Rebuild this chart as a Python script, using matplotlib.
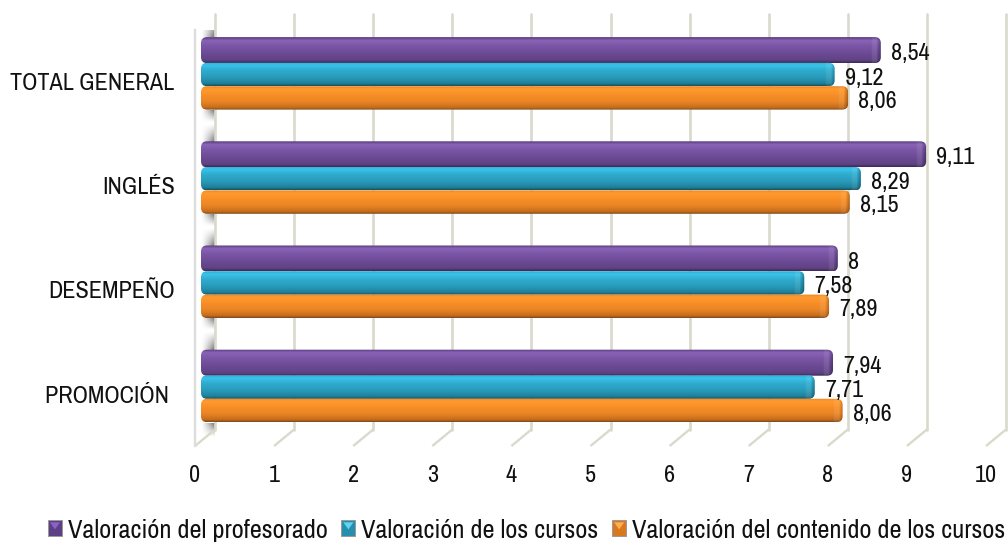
import numpy as np
import matplotlib
matplotlib.use("Agg")
import matplotlib.pyplot as plt
from matplotlib import font_manager as fm
from matplotlib.colors import LinearSegmentedColormap
from matplotlib.legend_handler import HandlerPatch
from matplotlib.patches import FancyBboxPatch, Patch, Rectangle, Polygon
from matplotlib.transforms import ScaledTranslation

categories = ["TOTAL GENERAL", "INGLÉS", "DESEMPEÑO", "PROMOCIÓN "]
series_names = ["Valoración del profesorado", "Valoración de los cursos",
                "Valoración del contenido de los cursos"]
profesorado = [8.54, 9.11, 8.00, 7.94]
cursos = [7.96, 8.29, 7.58, 7.71]
contenido = [8.13, 8.15, 7.89, 8.06]
label_profesorado = ["8,54", "9,11", "8", "7,94"]
label_cursos = ["9,12", "8,29", "7,58", "7,71"]
label_contenido = ["8,06", "8,15", "7,89", "8,06"]
x_ticks = list(range(0, 11))

names = {f.name for f in fm.fontManager.ttflist}
if "Archivo Narrow" in names:
    plt.rcParams["font.family"] = ["Archivo Narrow", "Liberation Sans"]
    FS = 17.4
    FS_LEG = 19.0
else:
    plt.rcParams["font.family"] = ["Liberation Sans"]
    FS = 14.6
    FS_LEG = 15.5

W, H = 1008, 548
DPI = 100
fig = plt.figure(figsize=(W / DPI, H / DPI), dpi=DPI, facecolor="white")


def px_axes(x0, y0, x1, y1, **kw):
    return fig.add_axes([x0 / W, 1 - y1 / H, (x1 - x0) / W, (y1 - y0) / H], **kw)


# grid axes: scale of the ticks and floor
GRID = "#d9d9cc"
ax_g = px_axes(195, 30, 986, 446)
for s in ax_g.spines.values():
    s.set_visible(False)
ax_g.set_yticks([])
ax_g.set_xticks(x_ticks)
ax_g.set_xticklabels([str(t) for t in x_ticks], fontsize=FS, color="#111111")
ax_g.tick_params(axis="x", length=0, pad=13.5)
back = ax_g.transData + ScaledTranslation(20 / DPI, 16.5 / DPI, fig.dpi_scale_trans)
for t in x_ticks:
    ax_g.plot([t, t + 20 / 79.1], [0, 16.5 / 416], color=GRID, lw=1.7, clip_on=False, zorder=2,
              solid_capstyle="butt")
    ax_g.plot([t, t], [0, 1], transform=back, color=GRID, lw=1.9, clip_on=False, zorder=2,
              solid_capstyle="round")
# left wall front edge
ax_g.plot([0, 0], [0, 1], color="#dddddd", lw=1.7, clip_on=False, zorder=2)

# soft shadow on the back wall beside each group (spans given in pixels: near edge, far edge)
PITCH = 104.2
YC0 = 74.5
ramp_x = np.linspace(0, 1, 40) ** 1.3
for py_near, py_far in [(37, 14), (110, 122), (142, 124), (214, 226), (246, 228),
                        (318, 330), (350, 332), (423, 437)]:
    ramp_y = np.linspace(1, 0, 30) ** 1.1
    if py_far < py_near:
        top, bot, ry = py_far, py_near, ramp_y[::-1]
    else:
        top, bot, ry = py_near, py_far, ramp_y
    rgba = np.zeros((30, 40, 4))
    rgba[..., :3] = 0.40
    rgba[..., 3] = 0.95 * np.outer(ry, ramp_x)
    ax_g.imshow(rgba, extent=[(201 - 195) / 79.1, (215 - 195) / 79.1,
                              (446 - bot) / 416, (446 - top) / 416],
                aspect="auto", zorder=1, interpolation="bilinear", origin="upper")
ax_g.set_xlim(0, 10)
ax_g.set_ylim(0, 1)

# bars axes
ax = px_axes(201, 30, 997, 446)
ax.patch.set_alpha(0)
for s in ax.spines.values():
    s.set_visible(False)
ax.set_xticks([])
ypos = np.arange(len(categories))
ax.set_yticks(ypos)
ax.set_yticklabels(categories, fontsize=FS, color="#111111")
ax.tick_params(axis="y", length=0, pad=19)
for lab in ax.get_yticklabels():
    lab.set_transform(lab.get_transform() + ScaledTranslation(0, -7 / DPI, fig.dpi_scale_trans))

palettes = [
    ["#54397a", "#8a63b5", "#7a55a6", "#6b4a93", "#5f4284", "#3d2a55"],
    ["#2fa9cc", "#3ac4ea", "#2fabcd", "#289ab9", "#1f7f99", "#16505f"],
    ["#e78522", "#ff9b2e", "#f98f28", "#ea8524", "#c76d1c", "#7e4a18"],
]
stops = [0, .12, .35, .65, .90, 1]
cmaps = [LinearSegmentedColormap.from_list(f"b{i}", list(zip(stops, p))) for i, p in enumerate(palettes)]
grad = np.linspace(0, 1, 64)[:, None]

offs = [-24.4 / PITCH, 0, 23.4 / PITCH]
heights = [26 / PITCH, 23.4 / PITCH, 23.4 / PITCH]
series = [profesorado, cursos, contenido]
labels = [label_profesorado, label_cursos, label_contenido]

# end-of-bar bevel: soft light band, then darkening toward the tip
t_ = np.linspace(0, 1, 40)
bevel = np.zeros((1, 40, 4))
bevel[0, :, :3] = np.where(t_ < 0.62, 1.0, 0.0)[:, None]
bevel[0, :, 3] = np.where(t_ < 0.62, 0.09 * np.minimum(t_ / 0.15, 1), 0.30 * (t_ - 0.62) / 0.38)

scale = 79.6
ylim = ((446 - YC0) / PITCH, (30 - YC0) / PITCH)
ax.set_xlim(0, 10)
ax.set_ylim(*ylim)
for i, (vals, labs) in enumerate(zip(series, labels)):
    for g, (v, lab) in enumerate(zip(vals, labs)):
        h = heights[i]
        yc = g + offs[i]
        y0, y1 = yc - h / 2, yc + h / 2
        clip = FancyBboxPatch((0.0, y0), v, h,
                              boxstyle=f"round,pad=0,rounding_size={6 / scale}",
                              mutation_aspect=scale / PITCH,
                              transform=ax.transData, fc="none", ec="none")
        ax.add_patch(clip)
        z = 3 + i * 0.2
        im = ax.imshow(grad, extent=[0, v, y1, y0], aspect="auto", cmap=cmaps[i],
                       zorder=z, interpolation="bilinear")
        im.set_clip_path(clip)
        cap = ax.imshow(bevel, extent=[v - 10 / scale, v, y1, y0], aspect="auto",
                        zorder=z + 0.05, interpolation="bilinear")
        cap.set_clip_path(clip)
        ax.annotate(lab, (v, yc), xytext=(7.4, -2.6), textcoords="offset points",
                    ha="left", va="center", fontsize=FS, color="#111111", zorder=6)
ax.set_xlim(0, 10)
ax.set_ylim(*ylim)


class BevelHandler(HandlerPatch):
    def __init__(self, light):
        super().__init__()
        self.light = light

    def create_artists(self, legend, orig, xd, yd, w, h, fs, trans):
        x0, y0 = -xd, -yd
        sq = Rectangle((x0, y0), w, h, fc=orig.get_facecolor(), ec="#9a9a9a", lw=0.7, transform=trans)
        m = w * 0.14
        tri = Polygon([(x0 + m, y0 + h - m), (x0 + w - m, y0 + h - m), (x0 + w / 2, y0 + h * 0.42)],
                      fc=self.light, ec="none", transform=trans)
        return [sq, tri]


handles = [Patch(fc="#5d3f85", label=series_names[0]),
           Patch(fc="#268fad", label=series_names[1]),
           Patch(fc="#d9791f", label=series_names[2])]
hmap = {handles[0]: BevelHandler("#8a63c5"),
        handles[1]: BevelHandler("#5fd5f2"),
        handles[2]: BevelHandler("#ffb050")}
fig.legend(handles=handles, handler_map=hmap, loc="center left",
           bbox_to_anchor=(48 / W, 1 - 530 / H), bbox_transform=fig.transFigure, ncols=3,
           frameon=False, fontsize=FS_LEG, labelcolor="#111111", handlelength=0.53, handleheight=0.53,
           handletextpad=0.21, columnspacing=0.53, borderpad=0, borderaxespad=0)

fig.savefig("out.png", dpi=DPI)
